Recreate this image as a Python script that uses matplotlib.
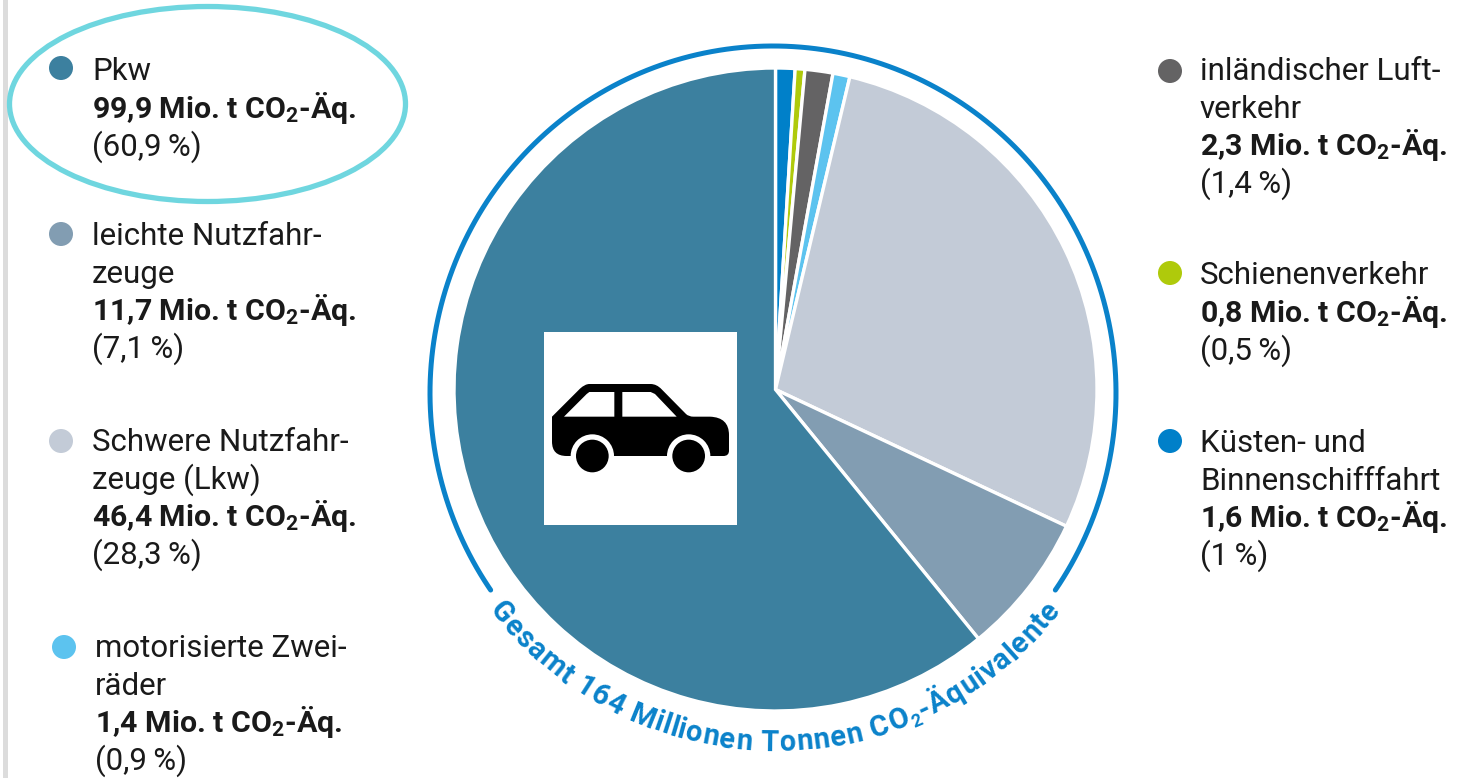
# -*- coding: utf-8 -*-
import numpy as np
import matplotlib
matplotlib.use("Agg")
import matplotlib.pyplot as plt
from matplotlib.font_manager import FontProperties
from matplotlib.patches import Circle, Ellipse, PathPatch, Polygon, Rectangle
from matplotlib.path import Path
from matplotlib.textpath import text_to_path

plt.rcParams['font.family'] = ['Roboto', 'DejaVu Sans']
plt.rcParams['mathtext.default'] = 'regular'

# Wedges, clockwise from the top
categories = [["Küsten- und", "Binnenschifffahrt"],
              ["Schienenverkehr"],
              ["inländischer Luft-", "verkehr"],
              ["motorisierte Zwei-", "räder"],
              ["Schwere Nutzfahr-", "zeuge (Lkw)"],
              ["leichte Nutzfahr-", "zeuge"],
              ["Pkw"]]
values = [1.6, 0.8, 2.3, 1.4, 46.4, 11.7, 99.9]
percents = ["1", "0,5", "1,4", "0,9", "28,3", "7,1", "60,9"]
colors = ["#0080c9", "#afca0b", "#646364", "#5cc3ef", "#c3cbd7", "#829db2", "#3c809f"]

# Legend layout: dot x, dot y, text x, first baseline
legend_pos = [(1170, 441, 1200, 452),
              (1170, 273, 1200, 284),
              (1170, 71, 1200, 80),
              (64, 647, 95, 657),
              (61, 441, 92, 451),
              (61, 234, 92, 245),
              (61, 68, 92, 80)]

ring_title = "Gesamt 164 Millionen Tonnen CO2-Äquivalente"

TEXT = "#1a1a1a"
RING = "#0a82ca"
CX, CY = 775, 390
LINE_STEP = 37.7


def car_icon(ax):
    # Outline, in a 660 px box scaled 3x
    def px(x, y):
        return (530 + x / 3, 320 + y / 3)

    M, L, C = Path.MOVETO, Path.LINETO, Path.CURVE3
    body = [(M, 66, 290), (L, 150, 206), (C, 165, 192), (C, 178, 192),
            (L, 362, 192), (C, 380, 192), (C, 395, 208), (L, 468, 282),
            (C, 476, 290), (C, 490, 290), (L, 540, 290), (C, 597, 292),
            (C, 597, 345), (L, 597, 392), (C, 597, 408), (C, 580, 408),
            (L, 110, 408), (C, 66, 408), (C, 66, 365), (Path.CLOSEPOLY, 66, 290)]
    codes = [b[0] for b in body]
    verts = [px(b[1], b[2]) for b in body]
    ax.add_patch(PathPatch(Path(verts, codes), fc="black", ec="none", zorder=6))
    for win in ([(102, 290), (170, 222), (178, 216), (253, 216), (253, 290)],
                [(277, 216), (362, 216), (375, 222), (440, 290), (277, 290)]):
        ax.add_patch(Polygon([px(*p) for p in win], fc="white", ec="none", zorder=7))
    for wx in (187, 476):
        ax.add_patch(Circle(px(wx, 408), 65 / 3, fc="white", ec="none", zorder=7))
        ax.add_patch(Circle(px(wx, 408), 49 / 3, fc="black", ec="none", zorder=8))


def arc_text(ax, text, radius, ang_start, ang_end, fontsize):
    prop = FontProperties(family="Roboto", weight="bold", size=fontsize)
    sub = FontProperties(family="Roboto", weight="bold", size=fontsize * 0.62)

    def adv(ch, p):
        w0 = text_to_path.get_text_width_height_descent("xx", p, False)[0]
        w1 = text_to_path.get_text_width_height_descent("x" + ch + "x", p, False)[0]
        return (w1 - w0) * 100 / 72

    sub_idx = text.index("CO2") + 2
    widths = [adv(ch, sub if i == sub_idx else prop) for i, ch in enumerate(text)]
    total = sum(widths)
    span = np.deg2rad(ang_end - ang_start)
    scale = span / total
    pos = 0.0
    for i, ch in enumerate(text):
        mid = pos + widths[i] / 2
        pos += widths[i]
        # angle measured on screen with y pointing up, so it grows left to right along the bottom
        a = np.deg2rad(ang_start) + mid * scale
        r = radius + (5 if i == sub_idx else 0)
        x = CX + r * np.cos(a)
        y = CY - r * np.sin(a)
        rot = np.rad2deg(a) + 90
        ax.text(x, y, ch, fontproperties=sub if i == sub_idx else prop, color=RING,
                rotation=rot, rotation_mode="anchor", ha="center", va="baseline", zorder=5)


fig = plt.figure(figsize=(14.61, 7.78), dpi=100)
ax = fig.add_axes([0, 0, 1, 1])

# y axis is inverted below, so the default direction runs clockwise on screen
ax.pie(values, colors=colors, startangle=-90, center=(CX + 0.5, CY - 0.5), radius=321.5,
       wedgeprops={"edgecolor": "white", "linewidth": 2.4})

ax.set_xlim(0, 1461)
ax.set_ylim(778, 0)
ax.set_aspect("equal")
ax.axis("off")

# Ring around the pie, open at the bottom
theta = np.deg2rad(np.linspace(-34.6, 214.6, 400))
ax.plot(773 + 343 * np.cos(theta), 393 - 347 * np.sin(theta), color=RING, lw=3.6,
        solid_capstyle="round")
arc_text(ax, ring_title, 361, 217.5, 322.5, 21)

# Grey bar at the left edge
ax.add_patch(Rectangle((3, 0), 5, 778, fc="#dcdcdc", ec="none"))

# Highlight around the Pkw entry
ax.add_patch(Ellipse((207.5, 104), 396, 195, fc="none", ec="#6fd6df", lw=3.8))

# Picture of the car on a white square
ax.add_patch(Rectangle((544, 332), 193, 193, fc="white", ec="none", zorder=5))
car_icon(ax)

# Legend entries
for cat, val, pct, col, pos in zip(categories, values, percents, colors, legend_pos):
    dot_x, dot_y, tx, ty = pos
    ax.add_patch(Circle((dot_x, dot_y), 12, fc=col, ec="none"))
    line = ty
    for name in cat:
        ax.text(tx, line, name, fontsize=22.5, color=TEXT, va="baseline")
        line += LINE_STEP
    label = f"{val:.1f}".replace(".", ",") + " Mio. t CO$_{2}$-Äq."
    ax.text(tx, line, label, fontsize=21.8, fontweight="bold", color=TEXT, va="baseline")
    line += LINE_STEP
    ax.text(tx, line, f"({pct}\u2009%)", fontsize=22.5, color=TEXT, va="baseline")

fig.savefig("out.png", dpi=100)
